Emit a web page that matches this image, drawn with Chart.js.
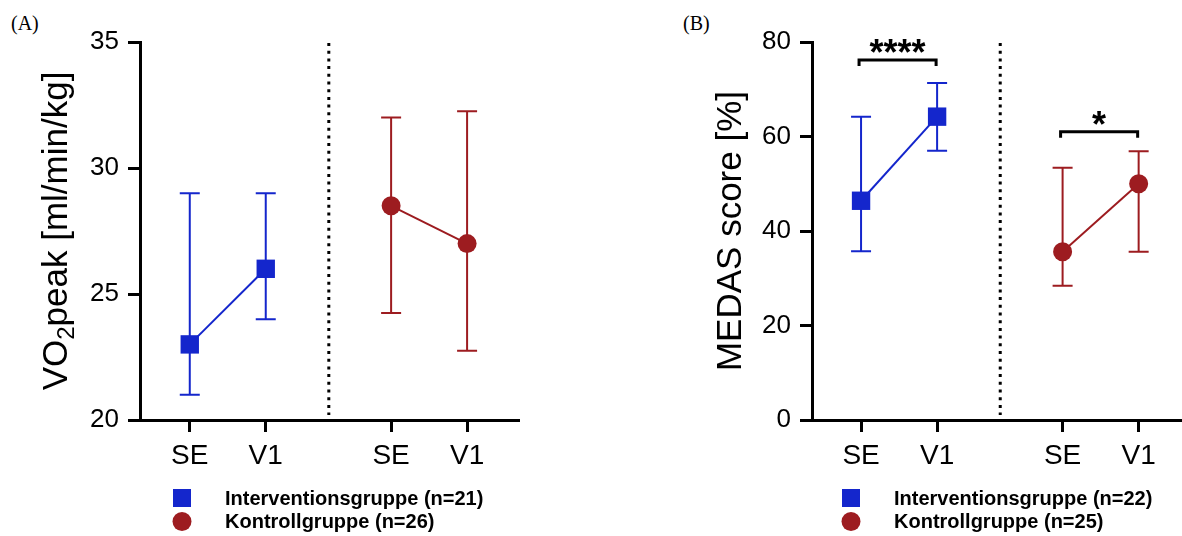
<!DOCTYPE html>
<html lang="de">
<head>
<meta charset="UTF-8">
<meta name="viewport" content="width=device-width, initial-scale=1.0">
<title>VO2peak und MEDAS score</title>
<script src="https://cdn.jsdelivr.net/npm/chart.js"></script>
<style>
  html, body { margin: 0; padding: 0; background: #fff; width: 1182px; height: 536px; overflow: hidden; }
  .panel { position: absolute; top: 0; width: 591px; height: 536px; }
  #panelA { left: 0; }
  #panelB { left: 591px; }
  .tag { position: absolute; top: 12px; font-family: 'Liberation Serif', 'Times New Roman', serif; font-size: 20px; color: #000; }
</style>
</head>
<body>
<div class="tag" style="left:11px">(A)</div>
<div class="tag" style="left:683px">(B)</div>
<div class="panel" id="panelA"><canvas id="chartA"></canvas></div>
<div class="panel" id="panelB"><canvas id="chartB"></canvas></div>

<script>
// time points on the x axis
var timepoints = ['SE', 'V1'];

// (A) VO2peak, mean with lower / upper whisker
var vo2Interv = [23, 26];
var vo2IntervLow = [21, 24];
var vo2IntervHigh = [29, 29];
var vo2Kontr = [28.5, 27];
var vo2KontrLow = [24.25, 22.75];
var vo2KontrHigh = [32, 32.25];
var vo2Ticks = [20, 25, 30, 35];
var legendA = ['Interventionsgruppe (n=21)', 'Kontrollgruppe (n=26)'];

// (B) MEDAS score
var medasInterv = [46.4, 64.2];
var medasIntervLow = [35.7, 57];
var medasIntervHigh = [64.2, 71.3];
var medasKontr = [35.6, 50];
var medasKontrLow = [28.4, 35.6];
var medasKontrHigh = [53.4, 56.9];
var medasTicks = [0, 20, 40, 60, 80];
var legendB = ['Interventionsgruppe (n=22)', 'Kontrollgruppe (n=25)'];
var medasSig = ['****', '*'];

// x layout: two groups separated by a dotted line
var intervX = [1, 2];
var kontrX = [3.65, 4.65];
var sepX = 2.83;

var BLUE = '#1426cc';
var RED = '#9d1c20';
var FONT = "'Liberation Sans', Arial, Helvetica, sans-serif";

function pts(xs, ys) {
    return ys.map(function (v, i) { return { x: xs[i], y: v }; });
}

function series(label, xs, ys, low, high, color, style, r) {
    return {
        label: label,
        data: pts(xs, ys),
        low: low,
        high: high,
        borderColor: color,
        backgroundColor: color,
        borderWidth: 2,
        pointStyle: style,
        pointRadius: r,
        pointBorderWidth: 0,
        pointBackgroundColor: color,
        clip: false
    };
}

// whiskers with caps, drawn under the markers
var errorBars = {
    id: 'errorBars',
    beforeDatasetsDraw: function (chart) {
        var ctx = chart.ctx, xs = chart.scales.x, ys = chart.scales.y;
        chart.data.datasets.forEach(function (ds) {
            ctx.save();
            ctx.strokeStyle = ds.borderColor;
            ctx.lineWidth = 2;
            ds.data.forEach(function (p, i) {
                var x = xs.getPixelForValue(p.x);
                var top = ys.getPixelForValue(ds.high[i]);
                var bot = ys.getPixelForValue(ds.low[i]);
                ctx.beginPath();
                ctx.moveTo(x, top); ctx.lineTo(x, bot);
                ctx.moveTo(x - 10, top); ctx.lineTo(x + 10, top);
                ctx.moveTo(x - 10, bot); ctx.lineTo(x + 10, bot);
                ctx.stroke();
            });
            ctx.restore();
        });
    }
};

// dotted separator between the groups
var separator = {
    id: 'separator',
    beforeDatasetsDraw: function (chart) {
        var ctx = chart.ctx, a = chart.chartArea;
        var x = chart.scales.x.getPixelForValue(sepX);
        ctx.save();
        ctx.strokeStyle = '#000';
        ctx.lineWidth = 3;
        ctx.setLineDash([3, 4.7]);
        ctx.beginPath();
        ctx.moveTo(x, a.top + 1);
        ctx.lineTo(x, a.bottom - 5);
        ctx.stroke();
        ctx.restore();
    }
};

// rotated y title, with optional subscript parts
var yTitle = {
    id: 'yTitle',
    afterDraw: function (chart, args, opts) {
        var ctx = chart.ctx, a = chart.chartArea;
        var big = '35px ' + FONT, small = '24px ' + FONT;
        ctx.save();
        var total = 0;
        opts.parts.forEach(function (p) {
            ctx.font = p.sub ? small : big;
            total += ctx.measureText(p.text).width;
        });
        ctx.translate(a.left - opts.offset, (a.top + a.bottom) / 2);
        ctx.rotate(-Math.PI / 2);
        ctx.fillStyle = '#000';
        ctx.textBaseline = 'alphabetic';
        ctx.textAlign = 'left';
        var x = -total / 2;
        opts.parts.forEach(function (p) {
            ctx.font = p.sub ? small : big;
            ctx.fillText(p.text, x, p.sub ? 7 : 0);
            x += ctx.measureText(p.text).width;
        });
        ctx.restore();
    }
};

// legend under the plot
var groupLegend = {
    id: 'groupLegend',
    afterDraw: function (chart, args, opts) {
        var ctx = chart.ctx;
        ctx.save();
        chart.data.datasets.forEach(function (ds, i) {
            var y = 498 + i * 23.5;
            ctx.fillStyle = ds.backgroundColor;
            ctx.beginPath();
            if (ds.pointStyle === 'rect') {
                ctx.rect(opts.x - 9, y - 9, 18, 18);
            } else {
                ctx.arc(opts.x, y, 9.5, 0, Math.PI * 2);
            }
            ctx.fill();
            ctx.fillStyle = '#000';
            ctx.font = 'bold 20px ' + FONT;
            ctx.textBaseline = 'middle';
            ctx.fillText(ds.label, opts.x + 43, y + 1);
        });
        ctx.restore();
    }
};

// significance brackets
var brackets = {
    id: 'brackets',
    afterDraw: function (chart, args, opts) {
        if (!opts.items) return;
        var ctx = chart.ctx, xs = chart.scales.x, ys = chart.scales.y;
        ctx.save();
        opts.items.forEach(function (b) {
            var x1 = xs.getPixelForValue(b.from) - 2;
            var x2 = xs.getPixelForValue(b.to) - 1;
            var y = ys.getPixelForValue(b.y);
            ctx.strokeStyle = '#000';
            ctx.lineWidth = 3;
            ctx.beginPath();
            ctx.moveTo(x1, y + 6); ctx.lineTo(x1, y); ctx.lineTo(x2, y); ctx.lineTo(x2, y + 6);
            ctx.stroke();
            ctx.fillStyle = '#000';
            ctx.font = 'bold 36px ' + FONT;
            ctx.textAlign = 'center';
            ctx.textBaseline = 'alphabetic';
            ctx.fillText(b.text, (x1 + x2) / 2, y + 5);
        });
        ctx.restore();
    }
};

function makeOptions(cfg) {
    var axisLine = { color: '#000', width: 3 };
    var tickGrid = { drawOnChartArea: false, drawTicks: true, tickLength: 12, color: '#000', lineWidth: 3 };
    return {
        responsive: true,
        maintainAspectRatio: false,
        animation: false,
        layout: {
            autoPadding: false,
            padding: { left: 0, top: 42, right: cfg.padRight, bottom: 56 }
        },
        plugins: {
            legend: { display: false },
            tooltip: { enabled: false },
            yTitle: { parts: cfg.title, offset: cfg.titleOffset },
            groupLegend: { x: cfg.legendX },
            brackets: { items: cfg.brackets }
        },
        scales: {
            x: {
                type: 'linear',
                min: cfg.xMin,
                max: cfg.xMax,
                afterBuildTicks: function (s) {
                    s.ticks = intervX.concat(kontrX).map(function (v) { return { value: v }; });
                },
                afterFit: function (s) {
                    s.height = 60;
                    s.paddingLeft = 0;
                    s.paddingRight = 0;
                },
                grid: tickGrid,
                border: axisLine,
                ticks: {
                    color: '#000',
                    font: { family: FONT, size: 28 },
                    padding: 7,
                    maxRotation: 0,
                    autoSkip: false,
                    callback: function (v, i) { return timepoints[i % timepoints.length]; }
                }
            },
            y: {
                min: cfg.ticks[0],
                max: cfg.ticks[cfg.ticks.length - 1],
                afterFit: function (s) { s.width = cfg.axisLeft; },
                grid: tickGrid,
                border: axisLine,
                ticks: {
                    stepSize: cfg.ticks[1] - cfg.ticks[0],
                    color: '#000',
                    font: { family: FONT, size: 26 },
                    padding: 9
                }
            }
        }
    };
}

new Chart(document.getElementById('chartA').getContext('2d'), {
    type: 'line',
    data: {
        datasets: [
            series(legendA[0], intervX, vo2Interv, vo2IntervLow, vo2IntervHigh, BLUE, 'rect', 13),
            series(legendA[1], kontrX, vo2Kontr, vo2KontrLow, vo2KontrHigh, RED, 'circle', 9.5)
        ]
    },
    options: makeOptions({
        ticks: vo2Ticks,
        axisLeft: 140,
        padRight: 73,
        xMin: 0.345,
        xMax: 5.32,
        title: [{ text: 'VO' }, { text: '2', sub: true }, { text: 'peak [ml/min/kg]' }],
        titleOffset: 73,
        legendX: 182
    }),
    plugins: [separator, errorBars, yTitle, groupLegend, brackets]
});

new Chart(document.getElementById('chartB').getContext('2d'), {
    type: 'line',
    data: {
        datasets: [
            series(legendB[0], intervX, medasInterv, medasIntervLow, medasIntervHigh, BLUE, 'rect', 13),
            series(legendB[1], kontrX, medasKontr, medasKontrLow, medasKontrHigh, RED, 'circle', 9.5)
        ]
    },
    options: makeOptions({
        ticks: medasTicks,
        axisLeft: 221,
        padRight: 0,
        xMin: 0.355,
        xMax: 5.22,
        title: [{ text: 'MEDAS score [%]' }],
        titleOffset: 71,
        legendX: 260,
        brackets: [
            { from: intervX[0], to: intervX[1], y: 76.2, text: medasSig[0] },
            { from: kontrX[0], to: kontrX[1], y: 61, text: medasSig[1] }
        ]
    }),
    plugins: [separator, errorBars, yTitle, groupLegend, brackets]
});
</script>
</body>
</html>
